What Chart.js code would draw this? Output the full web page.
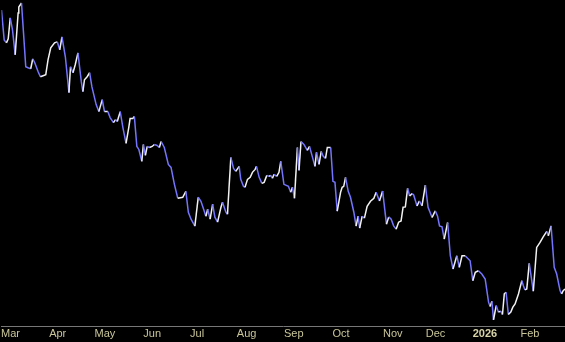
<!DOCTYPE html>
<html lang="en">
<head>
    <meta charset="UTF-8">
    <title>price chart</title>
    <style>
        html, body { margin: 0; padding: 0; background: #000; }
        #wrap { width: 565px; height: 342px; }
    </style>
</head>
<body>
    <div id="wrap">
        <canvas id="myChart"></canvas>
    </div>

    <script src="https://cdn.jsdelivr.net/npm/chart.js"></script>
    <script>
// trading-day position (0 = first session of March) and closing price at each turn of the line
const dayIndex = [
  -4.0, -2.8, -1.8, -1.0, -0.1, 0.9, 2.1, 3.4, 3.7, 4.9, 5.8, 6.8, 7.8, 9.0, 9.9, 10.8, 12.3, 13.3, 14.5, 15.7,
  16.7, 17.9, 19.6, 20.8, 21.9, 22.9, 24.4, 26.0, 26.7, 27.8, 28.8, 30.0, 31.5, 32.2, 32.9, 34.1, 35.2, 36.2, 38.1, 39.3,
  40.8, 41.8, 43.3, 44.3, 45.8, 46.7, 47.5, 48.8, 50.0, 51.4, 52.6, 53.2, 54.4, 55.1, 56.2, 57.1, 58.4, 59.1, 60.0, 60.8,
  61.8, 63.0, 64.0, 65.2, 66.2, 67.0, 68.4, 70.2, 71.4, 72.9, 74.4, 76.6, 78.0, 79.1, 80.3, 82.0, 83.5, 84.7, 85.9, 86.9,
  87.7, 88.8, 89.9, 90.9, 92.1, 93.6, 94.3, 95.8, 96.5, 98.0, 99.2, 100.2, 101.7, 102.4, 103.6, 104.3, 105.4, 106.6, 107.6, 108.8,
  109.4, 110.6, 111.8, 112.8, 114.0, 115.0, 115.7, 116.5, 117.2, 118.4, 119.4, 120.2, 121.6, 123.6, 124.6, 125.4, 126.3, 127.6, 128.3, 129.2,
  130.5, 132.0, 133.0, 134.2, 135.4, 136.1, 137.2, 138.2, 139.1, 140.1, 140.9, 142.4, 143.4, 144.3, 145.3, 146.8, 147.5, 148.2, 149.0, 150.2,
  151.2, 152.7, 153.7, 154.6, 155.3, 156.4, 157.4, 158.6, 160.1, 161.6, 162.6, 164.1, 165.5, 167.2, 168.2, 169.3, 170.4, 171.5, 172.6, 173.7,
  174.6, 175.6, 176.6, 177.5, 178.6, 179.3, 180.8, 181.8, 183.0, 184.5, 185.7, 187.5, 188.9, 189.9, 190.8, 191.9, 192.9, 194.4, 195.6, 196.8,
  198.5, 199.6, 200.8, 202.2, 204.4, 205.6, 206.7, 208.1, 209.6, 211.1, 212.6, 213.3, 214.1, 214.8, 216.0, 217.0, 218.0, 218.8, 219.6, 220.4,
  221.4, 222.5, 223.4, 224.4, 225.9, 227.4, 228.1, 228.8, 229.6, 230.7, 232.5, 234.0, 235.5, 236.9, 238.5, 239.2, 240.4, 241.8, 242.9, 244.4,
  245.1, 245.8, 246.6
]
const price = [
  49.0, 46.0, 45.7, 46.1, 48.2, 47.0, 44.5, 48.7, 49.3, 49.7, 46.7, 43.3, 43.2, 43.1, 44.1, 43.7, 42.8, 42.3, 42.4, 42.5,
  44.0, 45.2, 45.7, 45.8, 45.0, 46.3, 44.3, 40.7, 43.3, 42.7, 43.5, 44.7, 41.8, 40.8, 42.0, 42.3, 42.7, 41.3, 39.5, 38.8,
  40.0, 38.8, 38.8, 38.2, 37.7, 38.0, 37.8, 38.8, 37.2, 35.6, 37.2, 38.1, 38.1, 38.3, 35.3, 35.0, 33.8, 35.5, 34.4, 35.3,
  35.2, 35.3, 35.5, 35.4, 35.2, 35.8, 35.2, 33.5, 33.2, 31.5, 30.1, 30.2, 30.8, 28.7, 28.0, 27.3, 30.2, 29.8, 29.0, 28.3,
  29.0, 28.0, 29.5, 28.2, 27.7, 29.2, 29.7, 28.7, 28.5, 34.2, 33.1, 32.8, 33.3, 32.0, 31.3, 31.2, 32.0, 32.2, 32.7, 33.0,
  33.3, 32.2, 31.6, 31.7, 32.4, 32.3, 32.4, 32.1, 32.5, 32.3, 32.7, 33.8, 31.5, 31.3, 30.7, 31.2, 30.1, 35.2, 32.9, 35.8,
  35.5, 34.9, 35.3, 34.3, 33.3, 34.7, 33.5, 34.8, 34.3, 34.1, 35.2, 35.2, 31.8, 31.7, 28.8, 30.7, 31.2, 31.3, 32.2, 30.8,
  30.2, 28.7, 27.3, 28.3, 27.1, 28.3, 28.1, 29.3, 29.8, 30.1, 30.7, 29.83, 30.83, 27.5, 28.23, 28.0, 27.33, 27.0, 27.7, 27.83,
  29.2, 29.23, 31.1, 30.33, 30.57, 30.43, 29.33, 29.83, 29.33, 31.43, 29.2, 28.17, 28.83, 28.33, 27.33, 27.23, 26.0, 27.67, 24.33, 23.0,
  24.33, 23.17, 24.33, 24.33, 23.83, 21.83, 22.67, 22.83, 22.5, 22.0, 19.67, 19.23, 19.77, 17.9, 19.33, 18.67, 18.77, 18.43, 20.5, 20.67,
  18.43, 18.67, 19.17, 19.5, 20.5, 21.83, 21.33, 20.9, 21.0, 23.57, 20.77, 25.17, 25.67, 26.23, 26.77, 26.33, 27.33, 23.17, 22.5, 20.83,
  20.5, 20.83, 21.0
]

// first trading session of each month
const monthTickDays = [0, 21, 42, 63, 83, 105, 126, 147, 170, 189, 211, 231]
const monthTickLabels = ['Mar', 'Apr', 'May', 'Jun', 'Jul', 'Aug', 'Sep', 'Oct', 'Nov', 'Dec', '2026', 'Feb']
const yearTickDay = 211

const upColor = '#f2f2f2'
const downColor = '#7474ff'

const points = dayIndex.map((d, i) => ({ x: d, y: price[i] }))

const ctx = document.getElementById('myChart')

new Chart(ctx, {
    type: 'line',
    data: {
      datasets: [
        {
        label: 'price',
        data: points,
        borderColor: downColor,
        borderWidth: 1.5,
        pointRadius: 0,
        tension: 0,
        segment: {
          borderColor: c => c.p1.parsed.y >= c.p0.parsed.y ? upColor : downColor
        }
      }
    ]
    },
    options: {
      responsive: true,
      maintainAspectRatio: false,
      animation: false,
      layout: { padding: 0 },
      plugins: {
        legend: { display: false },
        tooltip: { enabled: false }
      },
      scales: {
        x: {
          type: 'linear',
          min: -4,
          max: 246.6,
          afterBuildTicks: axis => {
            axis.ticks = monthTickDays.map(v => ({ value: v }))
          },
          grid: { drawOnChartArea: false, tickLength: 0, color: '#777' },
          border: { color: '#777', width: 1 },
          ticks: {
            autoSkip: false,
            maxRotation: 0,
            padding: 1,
            color: c => c.tick && c.tick.value === yearTickDay ? '#d6d3a8' : '#c9c69a',
            font: c => c.tick && c.tick.value === yearTickDay
              ? { family: 'Liberation Sans', size: 11, weight: 'bold' }
              : { family: 'Liberation Sans', size: 11 },
            callback: v => monthTickLabels[monthTickDays.indexOf(v)]
          }
        },
        y: {
          display: false,
          min: 17.2,
          max: 50
        }
      }
    }
  });
    </script>
</body>
</html>
